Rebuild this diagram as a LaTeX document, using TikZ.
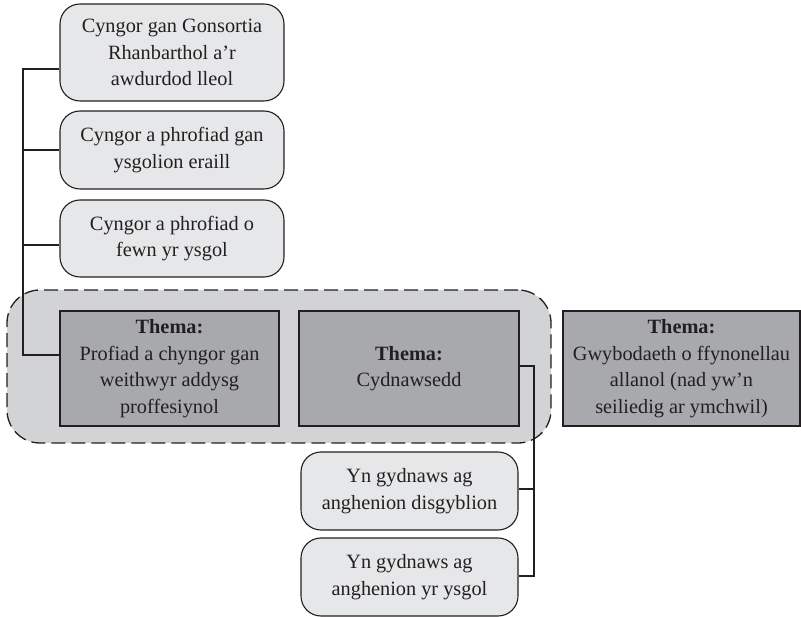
\documentclass[tikz,border=0pt]{standalone}
\usepackage{fontspec}
\setmainfont{Liberation Serif}
\definecolor{lightbox}{HTML}{E6E7E8}
\definecolor{groupfill}{HTML}{D1D3D4}
\definecolor{themefill}{HTML}{A7A9AC}
\definecolor{ink}{HTML}{231F20}
\begin{document}
\begin{tikzpicture}[x=1pt,y=-1pt,
  txt/.style={text=ink, align=center, inner sep=0pt, font=\fontsize{20.3}{26.5}\selectfont},
  srcbox/.style={txt, draw=ink, line width=1.1pt, fill=lightbox, rounded corners=20pt},
  themebox/.style={txt, draw=ink, line width=1.3pt, fill=themefill},
  groupbox/.style={draw=ink, line width=1.3pt, fill=groupfill, rounded corners=33pt, dash pattern=on 14pt off 6pt, inner sep=0pt},
  link/.style={draw=ink, line width=1.2pt}]
\useasboundingbox (0,0) rectangle (801,617);
% top source boxes
\node[srcbox, minimum width=224, minimum height=97] (A) at (172,52.5) {Cyngor gan Gonsortia\\Rhanbarthol a’r\\awdurdod lleol};
\node[srcbox, minimum width=224, minimum height=78] (B) at (172,150) {Cyngor a phrofiad gan\\ysgolion eraill};
\node[srcbox, minimum width=224, minimum height=77] (C) at (172,238.5) {Cyngor a phrofiad o\\fewn yr ysgol};
% group container
\node[groupbox, minimum width=544, minimum height=153] (G) at (279,366.5) {};
% theme boxes
\node[themebox, minimum width=219, minimum height=115] (T1) at (169.5,368.5) {\textbf{Thema:}\\Profiad a chyngor gan\\weithwyr addysg\\proffesiynol};
\node[themebox, minimum width=220, minimum height=115] (T2) at (409,368.5) {\textbf{Thema:}\\Cydnawsedd};
\node[themebox, minimum width=237, minimum height=115] (T3) at (681.5,368.5) {\textbf{Thema:}\\Gwybodaeth o ffynonellau\\allanol (nad yw’n\\seiliedig ar ymchwil)};
% bottom boxes
\node[srcbox, minimum width=217, minimum height=78] (Y1) at (409.5,491) {Yn gydnaws ag\\anghenion disgyblion};
\node[srcbox, minimum width=217, minimum height=78] (Y2) at (409.5,577) {Yn gydnaws ag\\anghenion yr ysgol};
% bus corners
\coordinate (LT) at (23,69);
\coordinate (LB) at (23,355);
\coordinate (RT) at (534,366);
\coordinate (RB) at (534,576);
% left bus
\draw[link] (A.west |- LT) -- (LT) -- (LB) -- (T1.west |- LB);
\draw[link] (B.west) -- (B.west -| LT);
\draw[link] ([yshift=-6.5pt]C.west) -- ([yshift=-6.5pt]C.west -| LT);
% right bus
\draw[link] (T2.east |- RT) -- (RT) -- (RB) -- (Y2.east |- RB);
\draw[link] ([yshift=2pt]Y1.east) -- ([yshift=2pt]Y1.east -| RT);
\end{tikzpicture}
\end{document}
